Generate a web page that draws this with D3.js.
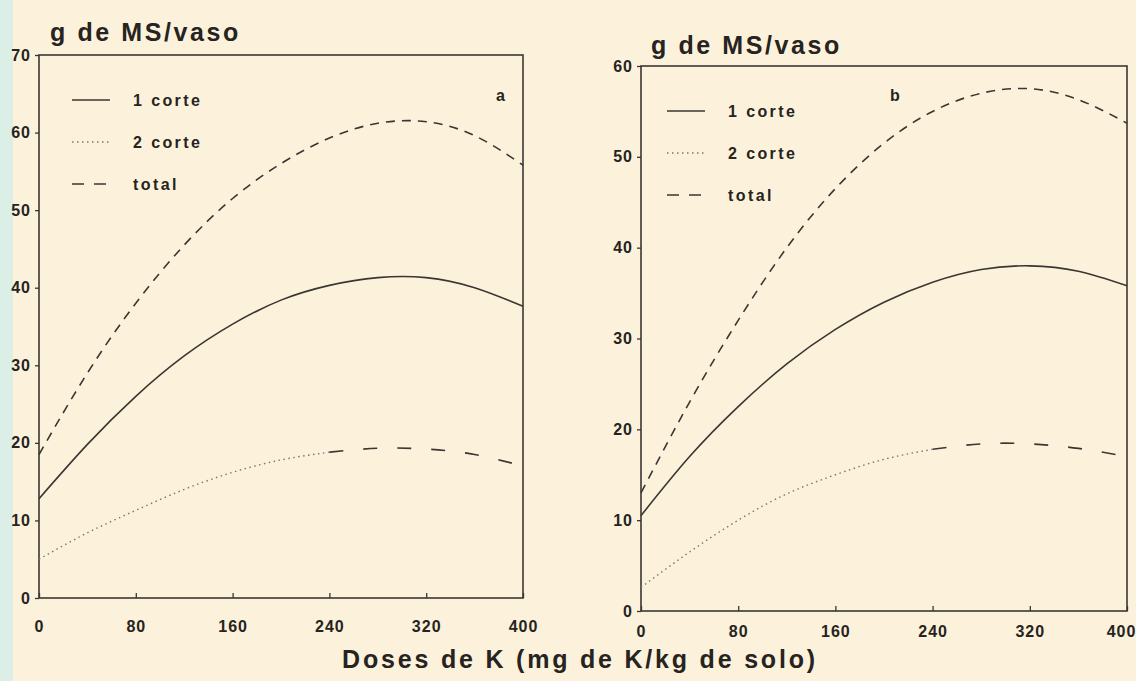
<!DOCTYPE html>
<html>
<head>
<meta charset="utf-8">
<script src="https://cdn.jsdelivr.net/npm/d3@7"></script>
<style>
  html, body { margin: 0; padding: 0; background: #fcf2dc; }
  svg { display: block; }
  text { font-family: "Liberation Sans", Arial, sans-serif; font-weight: bold; fill: #262320; }
</style>
</head>
<body>
<svg id="chart" width="1136" height="681"></svg>
<script>
// Doses de K (mg de K/kg de solo) used for the fitted curves
const doses = [0, 40, 80, 120, 160, 200, 240, 280, 320, 360, 400]

// Panel a: g de MS/vaso
const corte1A = [12.8, 19.8, 26.0, 31.2, 35.3, 38.4, 40.3, 41.3, 41.3, 40.0, 37.6]
const corte2A = [5.0, 8.4, 11.3, 14.0, 16.2, 17.8, 18.8, 19.3, 19.2, 18.5, 17.0]
const totalA  = [18.5, 29.0, 38.0, 45.5, 51.5, 56.0, 59.3, 61.2, 61.4, 59.6, 55.8]

// Panel b
const corte1B = [10.5, 17.0, 22.5, 27.2, 31.0, 34.0, 36.2, 37.6, 38.0, 37.4, 35.8]
const corte2B = [2.6, 6.5, 10.0, 12.9, 15.0, 16.7, 17.8, 18.4, 18.4, 17.9, 17.0]
const totalB  = [13.0, 23.0, 32.0, 40.0, 46.5, 51.5, 55.0, 57.0, 57.5, 56.3, 53.7]

const xTicks = [0, 80, 160, 240, 320, 400]
const yTicksA = [0, 10, 20, 30, 40, 50, 60, 70]
const yTicksB = [0, 10, 20, 30, 40, 50, 60]
const seriesNames = ["1 corte", "2 corte", "total"]

const yTitle = "g de MS/vaso"
const xTitle = "Doses de K (mg de K/kg de solo)"

// line looks for each series (solid, dotted, dashed)
const styles = {
  "1 corte": { dash: null, width: 1.6, color: "#3a3632" },
  "2 corte": { dash: "1.5,3.5", width: 1.4, color: "#7a7570" },
  "total":   { dash: "9,7", width: 1.6, color: "#3a3632" }
}

const svg = d3.select("#chart")

// faint cyan edge of the scanned page
svg.append("rect").attr("x", 0).attr("y", 0).attr("width", 13).attr("height", 681).attr("fill", "#dcefe6")

const panels = [
  { id: "a", x0: 39, x1: 523, y0: 598, y1: 55, yMax: 70, yTicks: yTicksA, xPad: 23,
    series: [corte1A, corte2A, totalA], titleX: 50, titleY: 41, tagX: 496, tagY: 101,
    legX: 72, legY: 100 },
  { id: "b", x0: 641, x1: 1127, y0: 611, y1: 66, yMax: 60, yTicks: yTicksB, xPad: 15,
    series: [corte1B, corte2B, totalB], titleX: 651, titleY: 54, tagX: 890, tagY: 101,
    legX: 667, legY: 111 }
]

const drawPanel = p => {
  const x = d3.scaleLinear().domain([0, 400]).range([p.x0, p.x1])
  const y = d3.scaleLinear().domain([0, p.yMax]).range([p.y0, p.y1])
  const g = svg.append("g").attr("class", "panel-" + p.id)

  // y axis: ticks outside, bold labels
  const yAxis = d3.axisLeft(y).tickValues(p.yTicks).tickSize(4).tickPadding(4).tickFormat(d3.format("d"))
  const ya = g.append("g").attr("transform", `translate(${p.x0},0)`).call(yAxis)
  ya.select(".domain").remove()
  ya.selectAll("line").attr("stroke", "#3a3632").attr("stroke-width", 1.3)
  ya.selectAll("text").attr("font-size", 16).attr("letter-spacing", 1).attr("fill", "#262320")

  // x axis: ticks point into the plot
  const xAxis = d3.axisBottom(x).tickValues(xTicks).tickSize(-5).tickPadding(p.xPad).tickFormat(d3.format("d"))
  const xa = g.append("g").attr("transform", `translate(0,${p.y0})`).call(xAxis)
  xa.select(".domain").remove()
  xa.selectAll("line").attr("stroke", "#3a3632").attr("stroke-width", 1.3)
  xa.selectAll("text").attr("font-size", 16).attr("letter-spacing", 1).attr("fill", "#262320")
  // keep the last label inside the page
  xa.selectAll("text").filter(d => d == 400).attr("dx", p.id == "b" ? -6 : 0)

  // frame
  g.append("rect")
    .attr("x", p.x0).attr("y", p.y1)
    .attr("width", p.x1 - p.x0).attr("height", p.y0 - p.y1)
    .attr("fill", "none").attr("stroke", "#3a3632").attr("stroke-width", 1.6)

  // curves
  const line = d3.line().x(d => x(d[0])).y(d => y(d[1])).curve(d3.curveNatural)
  p.series.forEach((vals, k) => {
    const name = seriesNames[k]
    const st = styles[name]
    const pts = vals.map((v, i) => [doses[i], v])
    if (name == "2 corte") {
      // the plotter drew this one dotted, then broken dashes past 240
      g.append("path").attr("d", line(pts.filter(d => d[0] <= 240)))
        .attr("fill", "none").attr("stroke", st.color).attr("stroke-width", st.width)
        .attr("stroke-dasharray", st.dash)
      g.append("path").attr("d", line(pts.filter(d => d[0] >= 240)))
        .attr("fill", "none").attr("stroke", "#3a3632").attr("stroke-width", 1.6)
        .attr("stroke-dasharray", "14,20")
    } else {
      g.append("path")
        .attr("d", line(pts))
        .attr("fill", "none")
        .attr("stroke", st.color)
        .attr("stroke-width", st.width)
        .attr("stroke-dasharray", st.dash)
    }
  })

  // legend
  seriesNames.forEach((name, k) => {
    const st = styles[name]
    const ly = p.legY + k * 42
    g.append("line")
      .attr("x1", p.legX).attr("x2", p.legX + 38)
      .attr("y1", ly).attr("y2", ly)
      .attr("stroke", st.color).attr("stroke-width", st.width)
      .attr("stroke-dasharray", name == "total" ? "12,10" : st.dash)
    g.append("text")
      .attr("x", p.legX + 61).attr("y", ly + 6)
      .attr("font-size", 16).attr("letter-spacing", 2.4)
      .text(name)
  })

  // panel tag and y title
  g.append("text").attr("x", p.tagX).attr("y", p.tagY).attr("font-size", 16).text(p.id)
  g.append("text").attr("x", p.titleX).attr("y", p.titleY)
    .attr("font-size", 25).attr("letter-spacing", 2.6).text(yTitle)
}

panels.forEach(drawPanel)

svg.append("text")
  .attr("x", 580).attr("y", 668)
  .attr("text-anchor", "middle")
  .attr("font-size", 25).attr("letter-spacing", 2.8)
  .text(xTitle)
</script>
</body>
</html>
